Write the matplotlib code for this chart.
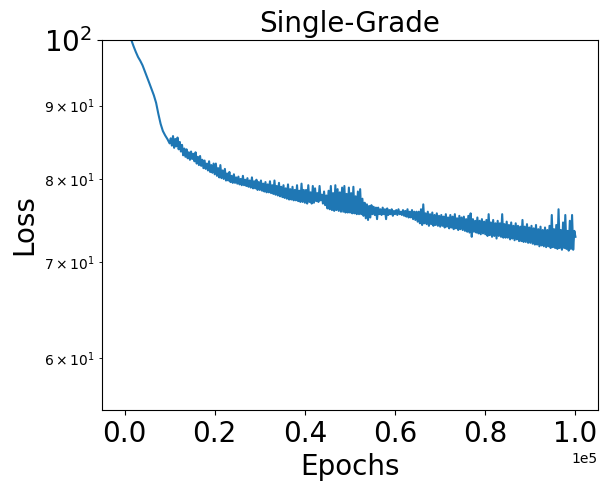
import numpy as np
from matplotlib import pyplot as plt
from matplotlib.ticker import MultipleLocator

# smooth warm-up phase, logged every 500 epochs (0 .. 9500)
warmup_step = 500
warmup_loss = [108.0, 104.0, 101.5, 100.0, 99.0, 98.1, 97.3, 96.7, 96.0, 95.1,
               94.2, 93.3, 92.4, 91.5, 90.4, 88.8, 87.4, 86.4, 85.8, 85.3]

# noisy phase, logged every 250 epochs (10000 .. 100000)
noisy_start = 10000
noisy_step = 250
noisy_loss = [
    84.7, 85.4, 84.4, 85.7, 84.1, 85.3, 84.3, 85.5, 83.9, 84.9,
    83.6, 84.5, 83.1, 84.0, 82.9, 83.9, 82.7, 83.5, 82.5, 83.6,
    82.6, 83.3, 82.3, 83.5, 82.0, 82.9, 81.8, 83.0, 81.7, 82.5,
    81.4, 82.4, 81.3, 82.0, 81.1, 82.3, 80.9, 81.8, 80.8, 82.0,
    80.6, 82.0, 80.4, 81.4, 80.2, 81.8, 80.1, 81.1, 80.0, 81.3,
    79.8, 80.7, 79.8, 80.9, 79.6, 80.4, 79.5, 80.6, 79.5, 80.2,
    79.4, 80.3, 79.3, 80.0, 79.2, 80.4, 79.2, 79.9, 79.1, 80.1,
    79.0, 79.8, 78.9, 80.2, 78.8, 79.7, 78.8, 79.9, 78.6, 79.6,
    78.6, 79.8, 78.5, 79.4, 78.4, 79.6, 78.3, 79.3, 78.3, 79.7,
    78.2, 79.2, 78.1, 79.8, 78.0, 79.1, 77.9, 79.5, 77.8, 79.0,
    77.7, 79.2, 77.6, 78.8, 77.5, 79.3, 77.4, 78.7, 77.4, 79.0,
    77.3, 78.6, 77.3, 79.2, 77.2, 78.5, 77.1, 79.4, 77.1, 78.6,
    77.0, 78.6, 76.9, 79.2, 77.1, 78.3, 76.9, 79.1, 77.0, 78.8,
    77.2, 78.2, 77.1, 79.1, 77.3, 78.0, 76.9, 78.4, 76.7, 77.9,
    76.3, 78.5, 76.2, 79.1, 76.1, 78.2, 76.0, 79.2, 76.1, 78.7,
    76.0, 78.3, 75.9, 78.9, 75.9, 79.1, 75.8, 78.1, 75.8, 78.9,
    75.8, 78.2, 75.7, 79.0, 75.7, 77.8, 75.6, 78.4, 75.6, 78.7,
    75.6, 77.5, 75.4, 77.0, 75.1, 76.8, 74.9, 76.6, 75.2, 76.7,
    75.6, 76.5, 75.5, 76.4, 75.0, 76.4, 75.6, 76.2, 75.5, 76.4,
    75.6, 76.2, 75.0, 76.3, 75.5, 76.1, 75.6, 76.2, 75.4, 76.0,
    75.6, 76.1, 75.5, 76.2, 75.6, 75.9, 75.5, 76.1, 75.4, 76.0,
    75.3, 76.2, 75.2, 75.9, 75.2, 76.1, 75.0, 75.9, 74.9, 75.9,
    74.7, 75.9, 74.5, 76.2, 74.3, 76.8, 74.5, 75.7, 74.4, 75.9,
    74.2, 75.6, 74.4, 75.8, 74.2, 75.5, 74.3, 75.7, 74.2, 75.4,
    74.1, 75.5, 74.2, 75.3, 74.0, 75.6, 74.1, 75.2, 73.9, 75.5,
    74.0, 75.3, 73.8, 75.6, 73.9, 75.1, 73.7, 75.4, 73.8, 75.2,
    73.7, 75.3, 73.6, 75.0, 73.5, 75.4, 73.4, 75.7, 72.9, 75.0,
    73.5, 74.8, 73.4, 75.2, 73.3, 74.8, 73.2, 75.0, 73.3, 74.7,
    73.2, 74.9, 73.0, 75.6, 73.1, 74.6, 72.9, 74.9, 73.0, 74.5,
    72.7, 74.8, 73.0, 74.5, 72.9, 75.6, 72.8, 74.4, 72.8, 74.7,
    72.8, 74.3, 72.6, 74.6, 72.7, 74.2, 72.5, 74.5, 72.6, 74.2,
    72.4, 74.1, 72.4, 74.9, 72.3, 74.1, 72.3, 74.4, 72.2, 74.0,
    72.2, 74.2, 72.1, 73.9, 72.0, 74.3, 72.0, 73.8, 71.8, 74.1,
    71.9, 73.7, 71.8, 74.0, 71.7, 73.7, 71.8, 74.2, 71.6, 75.5,
    71.7, 73.8, 71.6, 74.3, 71.5, 76.2, 71.6, 73.7, 71.4, 74.6,
    71.6, 75.5, 71.5, 73.6, 71.3, 74.8, 71.5, 75.5, 71.4, 73.6,
    72.9]

warmup_epochs = np.arange(len(warmup_loss)) * warmup_step
noisy_epochs = noisy_start + np.arange(len(noisy_loss)) * noisy_step
epochs = np.concatenate([warmup_epochs, noisy_epochs])
loss = np.array(warmup_loss + noisy_loss)

fig = plt.figure(figsize=(6.07, 4.91), dpi=100)
ax = fig.add_axes([102/607, 81/491, 496/607, 370/491])

ax.plot(epochs, loss, color='tab:blue', linewidth=1.5)
ax.set_yscale('log')
ax.set_ylim(55.2, 100)

ax.xaxis.set_major_locator(MultipleLocator(20000))
ax.ticklabel_format(axis='x', style='sci', scilimits=(0, 0))
ax.tick_params(axis='both', which='major', labelsize=20)
ax.tick_params(axis='y', which='minor', labelsize=10)

ax.set_title("Single-Grade", fontsize=20)
ax.set_xlabel("Epochs", fontsize=20)
ax.set_ylabel("Loss", fontsize=20)

fig.savefig("out.png")
